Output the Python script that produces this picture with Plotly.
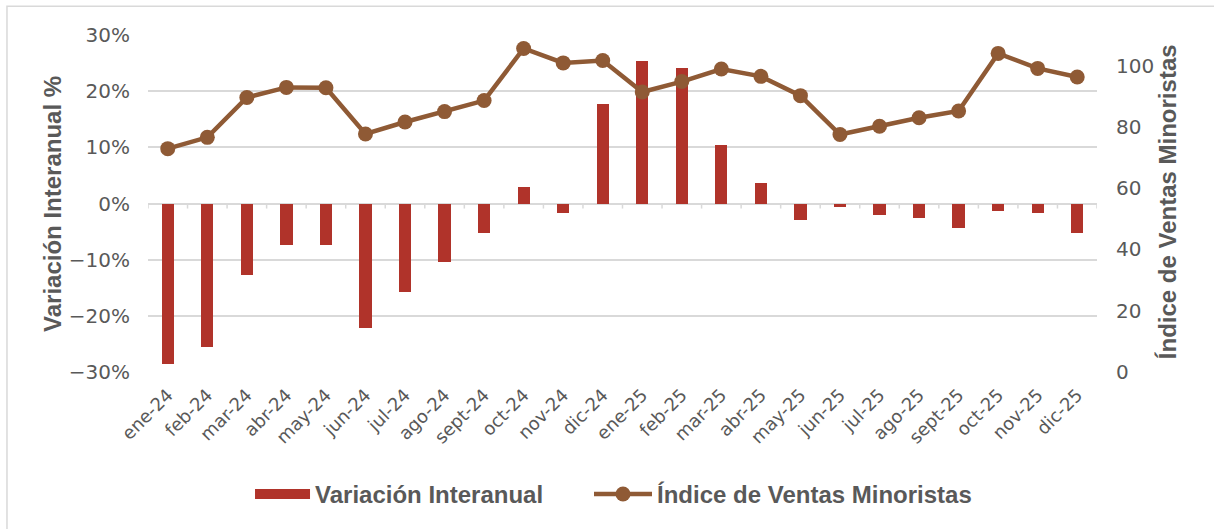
import plotly.graph_objects as go

months = ["ene-24", "feb-24", "mar-24", "abr-24", "may-24", "jun-24", "jul-24", "ago-24",
          "sept-24", "oct-24", "nov-24", "dic-24", "ene-25", "feb-25", "mar-25", "abr-25",
          "may-25", "jun-25", "jul-25", "ago-25", "sept-25", "oct-25", "nov-25", "dic-25"]

variacion = [-28.6, -25.6, -12.7, -7.3, -7.3, -22.1, -15.8, -10.5,
             -5.3, 2.9, -1.7, 17.7, 25.3, 24.1, 10.4, 3.6,
             -3.0, -0.6, -2.0, -2.6, -4.3, -1.4, -1.7, -5.3]

indice = [72.9, 76.6, 89.6, 92.9, 92.8, 77.7, 81.6, 85.0,
          88.6, 105.6, 100.9, 101.7, 91.4, 94.8, 98.9, 96.5,
          90.2, 77.5, 80.2, 83.0, 85.2, 104.0, 99.1, 96.3]

left_ticks = [-30, -20, -10, 0, 10, 20, 30]
left_labels = ["\u221230%", "\u221220%", "\u221210%", "0%", "10%", "20%", "30%"]
right_ticks = [0, 20, 40, 60, 80, 100]

BAR = "#B0332A"
LINE = "#8F5A35"
TXT = "#595959"
GRID = "#D9D9D9"
TICKFONT = dict(family="DejaVu Sans", size=20, color=TXT)
BOLD = dict(family="Liberation Sans", size=24, color=TXT, weight="bold")

fig = go.Figure()
fig.add_trace(go.Bar(x=months, y=variacion, marker=dict(color=BAR, line=dict(width=0)),
                     width=0.31, showlegend=False, name="Variación Interanual"))
# legend entry for the bars (wide rectangle symbol)
fig.add_trace(go.Scatter(x=[None], y=[None], mode="lines", line=dict(color=BAR, width=11),
                         name="Variación Interanual", legend="legend"))
fig.add_trace(go.Scatter(x=months, y=indice, yaxis="y2", mode="lines+markers",
                         line=dict(color=LINE, width=4.5),
                         marker=dict(color=LINE, size=15),
                         name="Índice de Ventas Minoristas", legend="legend2"))

# small tick marks on the zero line between categories
shapes = []
for i in range(len(months) + 1):
    shapes.append(dict(type="line", xref="x", yref="y", x0=i - 0.5, x1=i - 0.5,
                       y0=0, y1=-0.9, line=dict(color=GRID, width=1.5), layer="below"))
# outer frame
shapes.append(dict(type="rect", xref="paper", yref="paper", x0=-0.1486, x1=1.3,
                   y0=-0.7, y1=1.0855, line=dict(color=GRID, width=1.5)))

fig.update_layout(
    width=1214, height=529,
    margin=dict(l=148, r=117, t=35, b=155),
    paper_bgcolor="white", plot_bgcolor="white",
    bargap=0,
    xaxis=dict(type="category", range=[-0.5, len(months) - 0.5], tickangle=-45,
               tickfont=dict(family="DejaVu Sans", size=18, color=TXT),
               showgrid=False, showline=False, zeroline=False, ticks="",
               ticklabelstandoff=8),
    yaxis=dict(range=[-30, 30], tickvals=left_ticks, ticktext=left_labels,
               tickfont=TICKFONT, showgrid=True, gridcolor=GRID, gridwidth=1.5,
               zeroline=True, zerolinecolor=GRID, zerolinewidth=1.5,
               showline=False, ticks="", ticklabelstandoff=17),
    yaxis2=dict(range=[0, 110], tickvals=right_ticks, overlaying="y", side="right",
                tickfont=TICKFONT, showgrid=False, zeroline=False, showline=False,
                ticks="", ticklabelstandoff=18),
    legend=dict(orientation="h", x=0.1075, xanchor="left", y=-0.363, yanchor="middle",
                font=BOLD, itemwidth=55, bgcolor="rgba(0,0,0,0)"),
    legend2=dict(orientation="h", x=0.4647, xanchor="left", y=-0.363, yanchor="middle",
                 font=BOLD, itemwidth=58, bgcolor="rgba(0,0,0,0)"),
    shapes=shapes,
    annotations=[
        dict(text="Variación Interanual %", xref="paper", yref="paper", x=-0.1012, y=0.4985,
             textangle=-90, showarrow=False, font=BOLD, xanchor="center", yanchor="middle"),
        dict(text="Índice de Ventas Minoristas", xref="paper", yref="paper", x=1.0738, y=0.504,
             textangle=-90, showarrow=False, font=BOLD, xanchor="center", yanchor="middle"),
    ],
)

fig.write_html("out.html", config={"displayModeBar": False},
               post_script="document.body.style.margin='0';")
